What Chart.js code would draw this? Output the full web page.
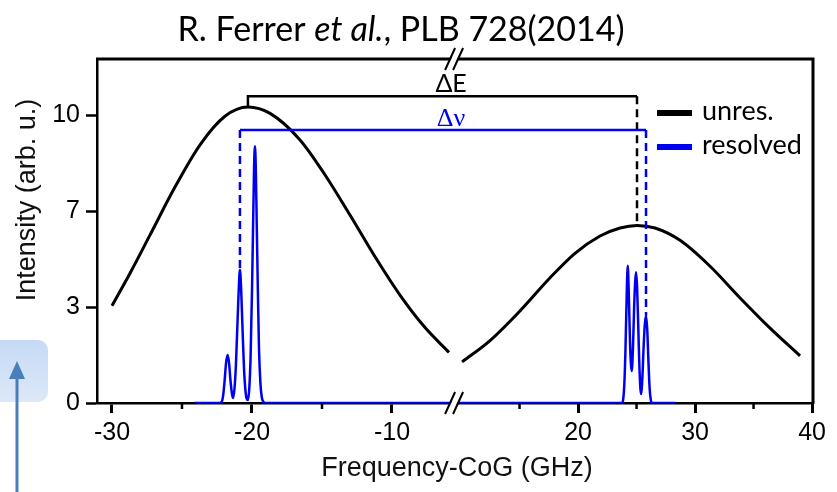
<!DOCTYPE html>
<html><head><meta charset="utf-8">
<script src="https://cdn.jsdelivr.net/npm/chart.js@4.4.0/dist/chart.umd.min.js"></script>
<style>html,body{margin:0;padding:0;background:#fff}canvas{display:block}</style>
</head><body>
<canvas id="c" width="837" height="492"></canvas>
<script>
// ---------------- data ----------------
const seriesNames = ['unres.', 'resolved'];

const unresLeftGHz = [-30.0, -28.71, -27.29, -25.5, -23.71, -21.93, -20.29, -18.71, -16.57, -14.79, -13.0, -11.21, -9.43, -7.64, -5.93];
const unresLeftInt = [3.38, 4.51, 5.83, 7.5, 8.97, 9.96, 10.28, 10.06, 9.14, 7.93, 6.53, 5.08, 3.75, 2.62, 1.76];

const unresRightGHz = [10.09, 12.48, 15.04, 17.61, 19.74, 21.88, 23.59, 25.04, 26.58, 28.72, 31.28, 33.85, 36.41, 38.97];
const unresRightInt = [1.43, 2.17, 3.2, 4.35, 5.2, 5.8, 6.08, 6.17, 6.08, 5.65, 4.75, 3.65, 2.6, 1.64];

const resLeftGHz = [-24.1, -22.3, -22.15, -22.05, -21.95, -21.85, -21.74, -21.64, -21.54, -21.44, -21.36, -21.25, -21.15, -21.05, -20.95, -20.86, -20.77, -20.67, -20.57, -20.47, -20.38, -20.29, -20.2, -20.1, -20.0, -19.92, -19.85, -19.79, -19.73, -19.66, -19.58, -19.5, -19.4, -19.3, -19.2, -19.05, -5.5];
const resLeftInt = [0, 0, 0.05, 0.3, 0.8, 1.4, 1.67, 1.4, 0.8, 0.35, 0.17, 0.5, 1.3, 2.6, 3.9, 4.63, 3.9, 2.5, 1.2, 0.45, 0.15, 0.1, 0.45, 1.6, 3.9, 6.2, 8.2, 8.92, 8.2, 6.2, 3.9, 1.9, 0.7, 0.2, 0.05, 0, 0];

const resRightGHz = [9.5, 23.75, 23.85, 23.95, 24.05, 24.15, 24.25, 24.35, 24.45, 24.59, 24.7, 24.8, 24.88, 24.96, 25.05, 25.15, 25.25, 25.38, 25.5, 25.6, 25.7, 25.81, 25.92, 26.02, 26.12, 26.22, 26.35, 28.3];
const resRightInt = [0, 0, 0.1, 0.6, 1.8, 3.6, 4.77, 3.6, 2.0, 1.11, 2.0, 3.4, 4.2, 4.54, 4.0, 2.6, 1.2, 0.31, 0.9, 1.9, 2.7, 3.03, 2.5, 1.4, 0.5, 0.1, 0, 0];

const xTicksLeft = [-30, -20, -10];
const xTicksRight = [20, 30, 40];
const xMinorLeft = [-25, -15];
const xMinorRight = [15, 25, 35];
const yTickValues = [0, 10 / 3, 20 / 3, 10];
const yTickLabels = ['0', '3', '7', '10'];

const xRangeLeft = [-31.07, 20.07];
const xRangeRight = [-21.11, 40.08];
const yRange = [0, 11.95];
const breakGHz = [-5.5, 9.5];          // left-scale / right-scale value at the axis break
// [from (left scale), to (right scale), bar level, foot at from, foot at to]
const deltaE = [-20.29, 25.04, 10.66, 10.28, 6.17];
const deltaNu = [-20.86, 25.81, 9.48, 4.63, 3.03];

const titleParts = [['R. Ferrer ', false], ['et al.', true], [', PLB 728(2014)', false]];
const xTitle = 'Frequency-CoG (GHz)';
const yTitle = 'Intensity (arb. u.)';

// ---------------- styles ----------------
const BLUE = '#0000f0';
const SANS = "'Liberation Sans', Arial, sans-serif";
const CAL = "Lato, 'Open Sans', sans-serif";

const pts = (xs, ys) => xs.map((x, i) => ({x, y: ys[i]}));

const decor = {
  id: 'decor',
  afterLayout(chart) {
    // both x scales take no layout space; let their label clip box reach the canvas bottom
    ['x', 'xR'].forEach(id => {
      const s = chart.scales[id];
      s.bottom = chart.height;
      s.height = s.bottom - s.top;
    });
  },
  beforeDraw(chart) {
    const ctx = chart.ctx;
    ctx.save();
    ctx.fillStyle = '#fff';
    ctx.fillRect(0, 0, chart.width, chart.height);
    // slide artefact: light blue rounded box with an arrow
    const g = ctx.createLinearGradient(0, 340, 0, 402);
    g.addColorStop(0, '#c6daf5'); g.addColorStop(1, '#dce8f8');
    ctx.fillStyle = g;
    ctx.beginPath();
    ctx.roundRect(-12, 340, 60, 62, 10);
    ctx.fill();
    ctx.strokeStyle = '#4a7ebb'; ctx.fillStyle = '#4a7ebb'; ctx.lineWidth = 3;
    ctx.beginPath(); ctx.moveTo(17, 492); ctx.lineTo(17, 376); ctx.stroke();
    ctx.beginPath(); ctx.moveTo(17, 361); ctx.lineTo(9, 379); ctx.lineTo(25, 379); ctx.closePath(); ctx.fill();
    ctx.restore();
  },
  afterDraw(chart) {
    const {ctx, chartArea: a} = chart;
    const sx = chart.scales.x, sr = chart.scales.xR, sy = chart.scales.y;
    ctx.save();
    // frame (top and right)
    ctx.strokeStyle = '#000'; ctx.lineWidth = 3;
    ctx.beginPath(); ctx.moveTo(a.left - 1, a.top); ctx.lineTo(a.right, a.top); ctx.lineTo(a.right, a.bottom + 1); ctx.stroke();
    // minor ticks
    ctx.lineWidth = 2.5;
    const minor = (scale, v) => {
      const px = scale.getPixelForValue(v);
      ctx.beginPath(); ctx.moveTo(px, a.bottom); ctx.lineTo(px, a.bottom + 6); ctx.stroke();
    };
    xMinorLeft.forEach(v => minor(sx, v));
    xMinorRight.forEach(v => minor(sr, v));
    // axis break marks
    const bx = (sx.getPixelForValue(breakGHz[0]) + sr.getPixelForValue(breakGHz[1])) / 2;
    [a.top, a.bottom].forEach(by => {
      ctx.fillStyle = '#fff';
      ctx.beginPath();
      ctx.moveTo(bx - 9, by + 11); ctx.lineTo(bx + 1, by - 11); ctx.lineTo(bx + 7, by - 11); ctx.lineTo(bx - 3, by + 11);
      ctx.closePath(); ctx.fill();
      ctx.strokeStyle = '#000'; ctx.lineWidth = 2;
      ctx.beginPath();
      ctx.moveTo(bx - 10, by + 11); ctx.lineTo(bx, by - 11);
      ctx.moveTo(bx - 2, by + 11); ctx.lineTo(bx + 8, by - 11);
      ctx.stroke();
    });
    // brackets
    const bracket = (d, color, solidLeft) => {
      const x1 = sx.getPixelForValue(d[0]), x2 = sr.getPixelForValue(d[1]);
      const yb = sy.getPixelForValue(d[2]), y1 = sy.getPixelForValue(d[3]), y2 = sy.getPixelForValue(d[4]);
      ctx.strokeStyle = color; ctx.lineWidth = 2.5; ctx.setLineDash([]);
      ctx.beginPath();
      ctx.moveTo(x1, solidLeft ? y1 : yb); ctx.lineTo(x1, yb); ctx.lineTo(x2, yb);
      ctx.stroke();
      ctx.setLineDash([8, 5]);
      ctx.beginPath();
      ctx.moveTo(x2, yb); ctx.lineTo(x2, y2);
      if (!solidLeft) { ctx.moveTo(x1, yb); ctx.lineTo(x1, y1); }
      ctx.stroke();
      ctx.setLineDash([]);
      return yb;
    };
    const yE = bracket(deltaE, '#000', true);
    const yN = bracket(deltaNu, BLUE, false);
    ctx.textAlign = 'center'; ctx.textBaseline = 'alphabetic';
    ctx.fillStyle = '#000'; ctx.font = `25px ${CAL}`;
    ctx.fillText('ΔE', bx - 4, yE - 4);
    ctx.fillStyle = BLUE; ctx.font = `26px 'Liberation Serif', serif`;
    ctx.fillText('Δν', bx - 4, yN - 4);
    // legend
    const lg = [[seriesNames[0], '#000', 113], [seriesNames[1], BLUE, 147]];
    ctx.font = `27px ${CAL}`; ctx.textAlign = 'left'; ctx.textBaseline = 'middle';
    lg.forEach(([t, c, yy]) => {
      ctx.strokeStyle = c; ctx.lineWidth = 6;
      ctx.beginPath(); ctx.moveTo(657, yy); ctx.lineTo(692, yy); ctx.stroke();
      ctx.fillStyle = '#000'; ctx.fillText(t, 702, yy - 2);
    });
    // title (mixed italic)
    const tf = (it) => `${it ? 'italic ' : ''}34px ${CAL}`;
    let total = 0;
    titleParts.forEach(([t, it]) => { ctx.font = tf(it); total += ctx.measureText(t).width; });
    let tx = 401 - total / 2;
    ctx.textAlign = 'left'; ctx.textBaseline = 'alphabetic'; ctx.fillStyle = '#000';
    titleParts.forEach(([t, it]) => { ctx.font = tf(it); ctx.fillText(t, tx, 41); tx += ctx.measureText(t).width; });
    // axis titles
    ctx.font = `27px ${SANS}`; ctx.fillStyle = '#111'; ctx.textAlign = 'center'; ctx.textBaseline = 'middle';
    ctx.fillText(xTitle, (a.left + a.right) / 2 + 2, 469);
    ctx.save();
    ctx.translate(28, 200); ctx.rotate(-Math.PI / 2);
    ctx.fillText(yTitle, 0, 0);
    ctx.restore();
    ctx.restore();
  }
};

const tickFont = {family: SANS, size: 25};
const xTickGrid = {drawOnChartArea: false, tickLength: 10, tickWidth: 3, tickColor: '#000'};
const xTickOpts = {font: tickFont, color: '#000', padding: 5, autoSkip: false, maxRotation: 0};

new Chart(document.getElementById('c'), {
  type: 'line',
  data: {
    datasets: [
      {label: seriesNames[1], data: pts(resLeftGHz, resLeftInt), xAxisID: 'x', yAxisID: 'y', borderColor: BLUE, borderWidth: 2.5, order: 0},
      {label: seriesNames[1], data: pts(resRightGHz, resRightInt), xAxisID: 'xR', yAxisID: 'y', borderColor: BLUE, borderWidth: 2.5, order: 0},
      {label: seriesNames[0], data: pts(unresLeftGHz, unresLeftInt), xAxisID: 'x', yAxisID: 'y', borderColor: '#000', borderWidth: 3, order: 1},
      {label: seriesNames[0], data: pts(unresRightGHz, unresRightInt), xAxisID: 'xR', yAxisID: 'y', borderColor: '#000', borderWidth: 3, order: 1}
    ]
  },
  options: {
    responsive: false,
    animation: false,
    devicePixelRatio: 1,
    layout: {padding: {top: 59, right: 24, bottom: 89, left: 0}},
    elements: {
      point: {radius: 0},
      line: {cubicInterpolationMode: 'monotone', fill: false}
    },
    plugins: {legend: {display: false}, tooltip: {enabled: false}, title: {display: false}},
    scales: {
      x: {
        type: 'linear', position: 'bottom',
        min: xRangeLeft[0], max: xRangeLeft[1],
        afterFit: s => { s.height = 0; },
        afterBuildTicks: s => { s.ticks = xTicksLeft.map(v => ({value: v})); },
        border: {display: true, color: '#000', width: 2.5},
        grid: xTickGrid,
        ticks: xTickOpts
      },
      xR: {
        type: 'linear', position: 'bottom',
        min: xRangeRight[0], max: xRangeRight[1],
        afterFit: s => { s.height = 0; },
        afterBuildTicks: s => { s.ticks = xTicksRight.map(v => ({value: v})); },
        border: {display: false},
        grid: xTickGrid,
        ticks: xTickOpts
      },
      y: {
        type: 'linear', position: 'left',
        min: yRange[0], max: yRange[1],
        afterFit: s => { s.width = 97; },
        afterBuildTicks: s => { s.ticks = yTickValues.map(v => ({value: v})); },
        border: {display: true, color: '#000', width: 2.5},
        grid: {drawOnChartArea: false, tickLength: 11, tickWidth: 2.5, tickColor: '#000'},
        ticks: {font: tickFont, color: '#000', padding: 6, autoSkip: false, callback: (v, i) => yTickLabels[i]}
      }
    }
  },
  plugins: [decor]
});
</script>
</body></html>
